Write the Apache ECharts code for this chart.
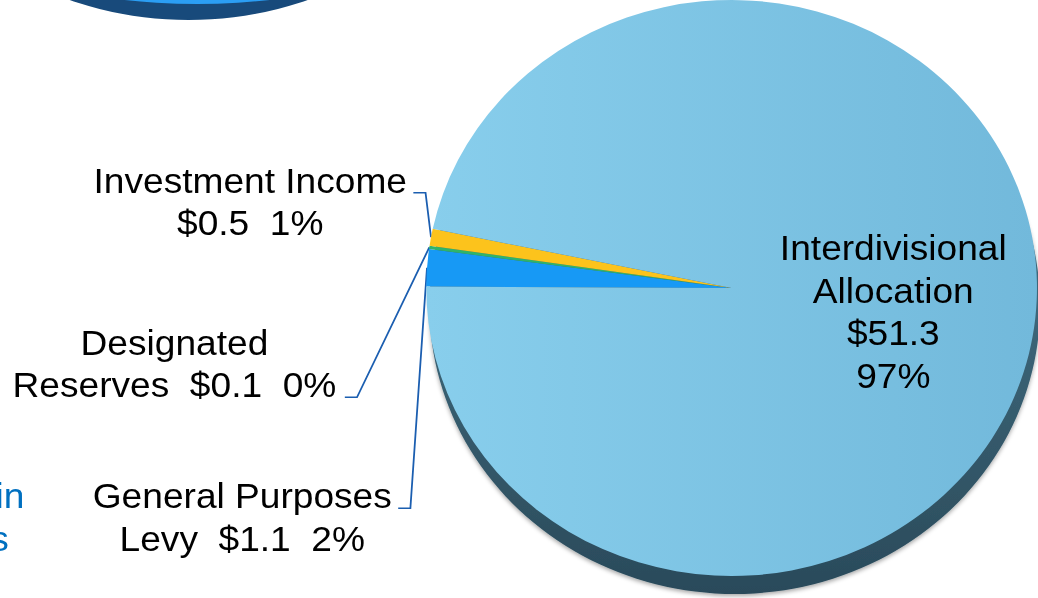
<!DOCTYPE html>
<html>
<head>
<meta charset="utf-8">
<title>Revenue Sources</title>
<script src="https://cdn.jsdelivr.net/npm/echarts@6/dist/echarts.min.js"></script>
<style>
  html, body { margin: 0; padding: 0; background: #ffffff; overflow: hidden; }
  /* the slide art is a little wider than tall, so the chart is drawn narrow and stretched */
  #chart { width: 979px; height: 598px; transform: scaleX(1.0603); transform-origin: 0 0; }
</style>
</head>
<body>
<div id="chart"></div>
<script>
// Revenue sources ($ millions)
const categories = ['General Purposes Levy', 'Designated Reserves', 'Investment Income', 'Interdivisional Allocation'];
const amounts = [1.1, 0.1, 0.5, 51.3];
const sliceColors = ['#1799f5', '#2fb46a', '#fcc31c', null];

// how each label wraps its name, amount and share
const labelNameLines = ['General Purposes\nLevy', 'Designated\nReserves', 'Investment Income', 'Interdivisional\nAllocation'];
const nameAmountSep = ['  ', '  ', '\n', '\n'];
const amountShareSep = ['  ', '  ', '  ', '\n'];

// edge of the neighbouring pie that sits above this one
const neighbourPie = [1];

// label placement: block centre, and which text row the leader line meets
const labelSpots = [
  { x: 228.5, y: 517.5, row: 0, gap: 6 },
  { x: 164.5, y: 364.0, row: 1, gap: 8 },
  { x: 236.0, y: 202.0, row: 0, gap: 6 },
  { x: 842.5, y: 311.7 }
];

const FONT = "'Liberation Sans', Arial, Helvetica, sans-serif";
const LINE_H = 42.5;
const CX = 690, CY = 288, R = 288;

const faceGradient = new echarts.graphic.LinearGradient(0, 0, 1, 0, [
  { offset: 0, color: '#88ceec' },
  { offset: 1, color: '#72b9db' }
]);
const rimGradient = new echarts.graphic.LinearGradient(0, 0, 0, 1, [
  { offset: 0.5, color: '#3d6679' },
  { offset: 1, color: '#2a4a5a' }
]);

const pieData = categories.map(function (name, i) {
  const item = {
    name: name,
    value: amounts[i],
    itemStyle: { color: sliceColors[i] || faceGradient }
  };
  if (i === 3) {
    item.label = { position: 'inside' };
    item.labelLine = { show: false };
  }
  return item;
});

const chart = echarts.init(document.getElementById('chart'), null, { renderer: 'svg' });

chart.setOption({
  animation: false,
  backgroundColor: '#ffffff',
  graphic: [{
    type: 'text',
    x: -50,
    y: 517.5,
    silent: true,
    style: {
      text: 'Dollars in\nMillions',
      fill: '#0070c0',
      font: '35px ' + FONT,
      lineHeight: LINE_H,
      align: 'center',
      verticalAlign: 'middle'
    }
  }],
  series: [
    // neighbouring pie: side wall, then top face
    {
      type: 'pie', silent: true, center: [178, -305], radius: 325,
      label: { show: false }, labelLine: { show: false },
      itemStyle: { color: '#184a7b', borderWidth: 0 },
      data: neighbourPie
    },
    {
      type: 'pie', silent: true, center: [186, -583], radius: 587,
      label: { show: false }, labelLine: { show: false },
      itemStyle: { color: '#2b9ef4', borderWidth: 0 },
      data: neighbourPie
    },
    // side wall of the main pie
    {
      type: 'pie', silent: true, center: [CX + 3, CY + 18], radius: R,
      label: { show: false }, labelLine: { show: false },
      itemStyle: {
        color: rimGradient, borderWidth: 0,
        shadowBlur: 4, shadowColor: 'rgba(0,0,0,0.35)', shadowOffsetY: 2
      },
      data: [amounts.reduce(function (a, b) { return a + b; }, 0)]
    },
    // main pie
    {
      type: 'pie',
      center: [CX, CY],
      radius: R,
      startAngle: 179.7,
      clockwise: true,
      avoidLabelOverlap: false,
      percentPrecision: 0,
      itemStyle: { borderWidth: 0 },
      emphasis: { disabled: true },
      label: {
        show: true,
        position: 'outer',
        overflow: 'none',
        color: '#000000',
        fontFamily: FONT,
        fontSize: 35,
        lineHeight: LINE_H,
        align: 'center',
        formatter: function (p) {
          const i = p.dataIndex;
          return labelNameLines[i] + nameAmountSep[i] + '$' + p.value.toFixed(1) +
            amountShareSep[i] + Math.round(p.percent) + '%';
        }
      },
      labelLine: {
        show: true,
        length: 10,
        length2: 10,
        lineStyle: { color: '#1b5eb0', width: 1.7 }
      },
      labelLayout: function (p) {
        const spot = labelSpots[p.dataIndex];
        const out = { x: spot.x, y: spot.y, align: 'center', verticalAlign: 'middle' };
        const pts = p.labelLinePoints;
        if (pts && spot.row != null) {
          const edge = pts[0];
          const endX = spot.x + p.labelRect.width / 2 + spot.gap;
          const lineY = spot.y + (spot.row === 0 ? -LINE_H / 2 : LINE_H / 2) + 12;
          out.labelLinePoints = [[edge[0], edge[1]], [endX + 11.5, lineY], [endX, lineY]];
        }
        return out;
      },
      data: pieData
    }
  ]
});
</script>
</body>
</html>
